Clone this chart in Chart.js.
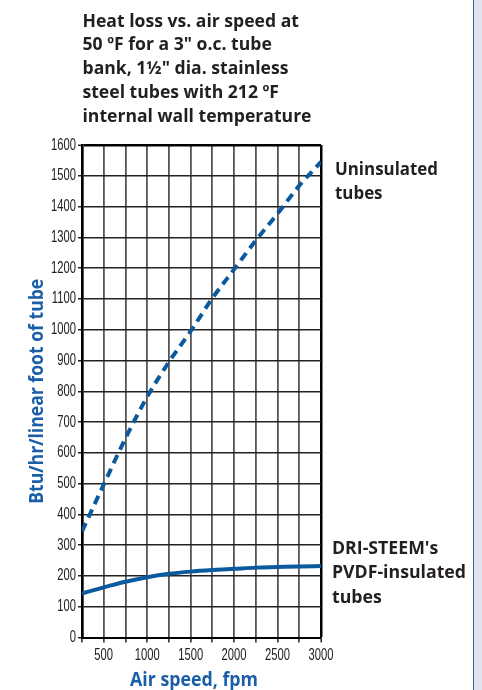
<!DOCTYPE html>
<html><head><meta charset="utf-8">
<script src="https://cdn.jsdelivr.net/npm/chart.js@4.4.1/dist/chart.umd.min.js"></script>
<style>html,body{margin:0;padding:0;background:#fff;overflow:hidden}canvas{display:block}</style>
</head><body>
<canvas id="c" width="482" height="690"></canvas>
<script>
// ---- data ----
const airSpeed    = [250, 500, 750, 1000, 1250, 1500, 1750, 2000, 2250, 2500, 2750, 3000];
const uninsulated = [345, 497, 647, 782, 895, 995, 1102, 1196, 1290, 1377, 1468, 1545];
const insulated   = [143, 163, 181, 196, 207, 214, 219, 223, 227, 229, 231, 232];
const xRange = [250, 3000];
const yRange = [0, 1600];
const xLabelStep = 500;
const titleLines = ['Heat loss vs. air speed at', '50 \u00baF for a 3" o.c. tube', 'bank, 1\u00bd" dia. stainless', 'steel tubes with 212 \u00baF', 'internal wall temperature'];
const label1 = ['Uninsulated', 'tubes'];
const label2 = ["DRI-STEEM's", 'PVDF-insulated', 'tubes'];
const xTitle = 'Air speed, fpm';
const yTitle = 'Btu/hr/linear foot of tube';

const BLUE = '#0c5a9e';
const TBLUE = '#1a5ea8';
const DARK = '#231f20';
const TICKFONT = "'Liberation Sans', Arial, sans-serif";

function drawBlock(ctx, lines, x, y0, lh, font, color, refIdx, targetW) {
  ctx.save();
  ctx.font = font;
  ctx.fillStyle = color;
  ctx.textBaseline = 'alphabetic';
  ctx.textAlign = 'left';
  const s = targetW / ctx.measureText(lines[refIdx]).width;
  ctx.translate(x, 0);
  ctx.scale(s, 1);
  lines.forEach((l, i) => ctx.fillText(l, 0, y0 + i * lh));
  ctx.restore();
}

// make the library's own tick labels narrow (condensed look)
function narrowLabels(scale, sx) {
  if (scale._narrowed) return;
  scale._narrowed = true;
  const orig = scale.drawLabels.bind(scale);
  scale.drawLabels = function (ca) {
    const ctx = this.ctx;
    const rot = ctx.rotate;
    ctx.rotate = function (a) { rot.call(this, a); this.scale(sx, 1); };
    try { orig(ca); } finally { ctx.rotate = rot; }
  };
}

const decor = {
  id: 'decor',
  beforeDraw(chart) {
    narrowLabels(chart.scales.x, 0.66);
    narrowLabels(chart.scales.y, 0.68);
    const ctx = chart.ctx;
    ctx.save();
    ctx.fillStyle = '#fff';
    ctx.fillRect(0, 0, chart.width, chart.height);
    ctx.fillStyle = '#e1e4f0';
    ctx.fillRect(474, 0, 8, chart.height);
    ctx.fillStyle = '#3a66a8';
    ctx.fillRect(473, 0, 1, chart.height);
    ctx.restore();
  },
  afterDraw(chart) {
    const ctx = chart.ctx;
    const a = chart.chartArea;
    drawBlock(ctx, titleLines, 82.5, 26.7, 23.75, "bold 18px 'Open Sans'", DARK, 4, 229);
    drawBlock(ctx, label1, 335, 175, 24, "bold 18px 'Open Sans'", DARK, 0, 103);
    drawBlock(ctx, label2, 332, 553.5, 24.7, "bold 18px 'Open Sans'", DARK, 1, 134);
    // x axis title
    ctx.save();
    ctx.font = "bold 19px 'Open Sans'";
    ctx.fillStyle = TBLUE;
    let w = ctx.measureText(xTitle).width, s = 128 / w;
    ctx.translate(194, 685.7);
    ctx.scale(s, 1);
    ctx.textAlign = 'center';
    ctx.fillText(xTitle, 0, 0);
    ctx.restore();
    // y axis title
    ctx.save();
    ctx.font = "bold 19px 'Open Sans'";
    ctx.fillStyle = TBLUE;
    w = ctx.measureText(yTitle).width; s = 225 / w;
    ctx.translate(43.3, (a.top + a.bottom) / 2);
    ctx.rotate(-Math.PI / 2);
    ctx.scale(s, 1);
    ctx.textAlign = 'center';
    ctx.fillText(yTitle, 0, 0);
    ctx.restore();
  }
};

new Chart(document.getElementById('c'), {
  type: 'line',
  data: {
    datasets: [
      {
        label: 'Uninsulated tubes',
        data: airSpeed.map((x, i) => ({x, y: uninsulated[i]})),
        borderColor: BLUE, borderWidth: 4, borderDash: [9, 6], borderCapStyle: 'butt',
        pointRadius: 0, cubicInterpolationMode: 'monotone', fill: false
      },
      {
        label: "DRI-STEEM's PVDF-insulated tubes",
        data: airSpeed.map((x, i) => ({x, y: insulated[i]})),
        borderColor: BLUE, borderWidth: 4, pointRadius: 0,
        cubicInterpolationMode: 'monotone', fill: false
      }
    ]
  },
  options: {
    responsive: false, animation: false, devicePixelRatio: 1,
    layout: { padding: { top: 145, right: 161, left: 0, bottom: 0 } },
    plugins: { legend: { display: false }, tooltip: { enabled: false }, title: { display: false } },
    scales: {
      x: {
        type: 'linear', min: xRange[0], max: xRange[1],
        afterFit: s => { s.height = 52.5; },
        border: { display: true, color: '#000', width: 2 },
        grid: {
          color: c => c.tick && c.tick.value === xRange[1] ? '#000' : '#555',
          lineWidth: c => c.tick && c.tick.value === xRange[1] ? 2.5 : 1.8,
          tickColor: '#222', tickWidth: 1.5, tickLength: 5, drawTicks: true
        },
        ticks: {
          stepSize: 250, autoSkip: false, maxRotation: 0, padding: 3,
          color: '#222', font: { family: TICKFONT, size: 17 },
          callback: v => (v % xLabelStep === 0 ? String(v) : '')
        }
      },
      y: {
        min: yRange[0], max: yRange[1],
        afterFit: s => { s.width = 82; },
        border: { display: true, color: '#000', width: 2.7 },
        grid: {
          color: c => c.tick && c.tick.value === yRange[1] ? '#000' : '#222',
          lineWidth: c => c.tick && c.tick.value === yRange[1] ? 2.6 : 1.5,
          tickColor: '#222', tickWidth: 1.5, tickLength: 4, drawTicks: true
        },
        ticks: {
          stepSize: 100, autoSkip: false, padding: 2,
          color: '#222', font: { family: TICKFONT, size: 16.5 },
          callback: v => String(v)
        }
      }
    }
  },
  plugins: [decor]
});
</script>
</body></html>
